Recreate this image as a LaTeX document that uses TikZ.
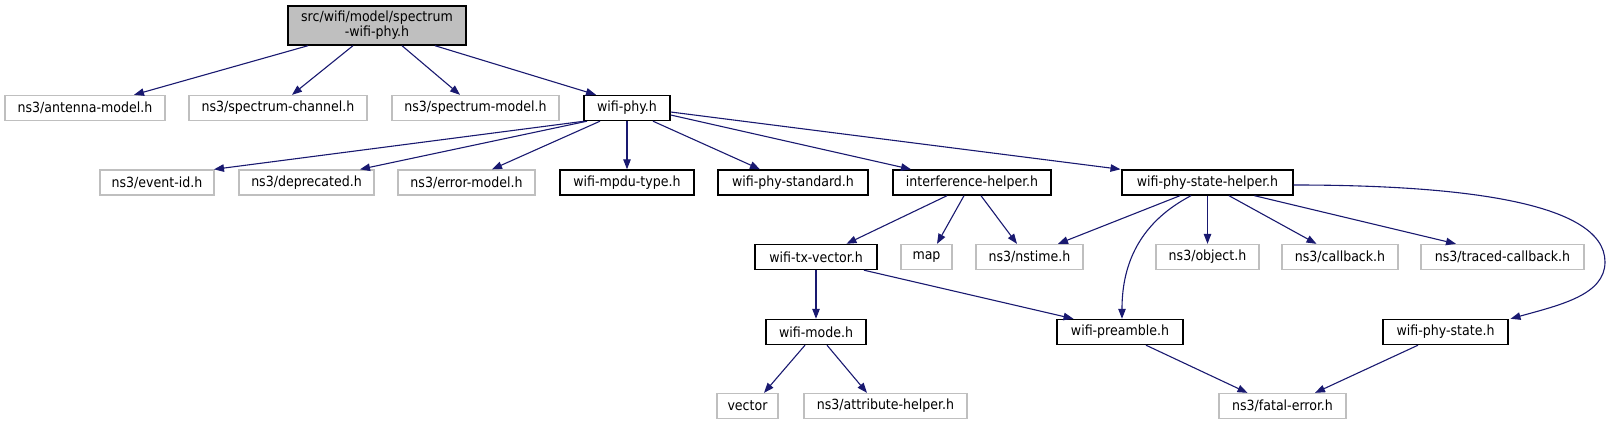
\documentclass[tikz,border=0pt]{standalone}
\usepackage{fontspec}
\setmainfont{DejaVu Sans Condensed}
\usetikzlibrary{arrows.meta}
\definecolor{edgecol}{HTML}{191970}
\definecolor{graybd}{HTML}{BFBFBF}
\begin{document}
\begin{tikzpicture}[x=1pt,y=-1pt,
  font=\fontsize{14}{15}\selectfont,
  box/.style={draw=black, line width=1.4pt, rectangle, minimum height=25pt, inner sep=0pt, fill=white},
  ext/.style={box, draw=graybd, line width=1.3pt},
  edge/.style={draw=edgecol, line width=1.1pt, -{Triangle[length=10pt,width=7.5pt]}}]
\useasboundingbox (0,0) rectangle (1610,425);
% root
\node[box, fill=graybd, minimum width=178pt, minimum height=39pt, align=center] (root) at (377,25.5) {src/wifi/model/spectrum\\-wifi-phy.h};
% row 1
\node[ext, minimum width=160pt] (antenna) at (85,108) {ns3/antenna-model.h};
\node[ext, minimum width=178pt] (spchan) at (278,108) {ns3/spectrum-channel.h};
\node[ext, minimum width=167pt] (spmodel) at (475.5,108) {ns3/spectrum-model.h};
\node[box, minimum width=86pt] (wifiphy) at (627,108) {wifi-phy.h};
% row 2
\node[ext, minimum width=114pt] (eventid) at (157,182.5) {ns3/event-id.h};
\node[ext, minimum width=135pt] (deprecated) at (306.5,182.5) {ns3/deprecated.h};
\node[ext, minimum width=137pt] (errmodel) at (466.5,182.5) {ns3/error-model.h};
\node[box, minimum width=134pt] (mpdu) at (627,182.5) {wifi-mpdu-type.h};
\node[box, minimum width=150pt] (standard) at (793,182.5) {wifi-phy-standard.h};
\node[box, minimum width=158pt] (interf) at (972,182.5) {interference-helper.h};
\node[box, minimum width=171pt] (statehelper) at (1207.5,182.5) {wifi-phy-state-helper.h};
% row 3
\node[box, minimum width=122pt] (txvector) at (816,257) {wifi-tx-vector.h};
\node[ext, minimum width=51pt] (map) at (926.5,257) {map};
\node[ext, minimum width=107pt] (nstime) at (1029.5,257) {ns3/nstime.h};
\node[ext, minimum width=103pt] (object) at (1207.5,257) {ns3/object.h};
\node[ext, minimum width=116pt] (callback) at (1340,257) {ns3/callback.h};
\node[ext, minimum width=163pt] (traced) at (1502.5,257) {ns3/traced-callback.h};
% row 4
\node[box, minimum width=100pt] (mode) at (816,332) {wifi-mode.h};
\node[box, minimum width=126pt] (preamble) at (1120,332) {wifi-preamble.h};
\node[box, minimum width=125pt] (phystate) at (1445.5,332) {wifi-phy-state.h};
% row 5
\node[ext, minimum width=61pt] (vector) at (747.5,406) {vector};
\node[ext, minimum width=163pt] (attr) at (885.5,406) {ns3/attribute-helper.h};
\node[ext, minimum width=127pt] (fatal) at (1282.5,406) {ns3/fatal-error.h};
% edges from root
\draw[edge] ([xshift=-69pt]root.south) -- ([xshift=49pt]antenna.north);
\draw[edge] ([xshift=-24pt]root.south) -- ([xshift=14pt]spchan.north);
\draw[edge] ([xshift=25pt]root.south) -- ([xshift=-15.5pt]spmodel.north);
\draw[edge] ([xshift=58pt]root.south) -- ([xshift=-31pt]wifiphy.north);
% edges from wifi-phy
\draw[edge] ([xshift=1pt]wifiphy.south west) -- ([xshift=57pt]eventid.north);
\draw[edge] ([xshift=-40pt]wifiphy.south) -- ([xshift=53.5pt]deprecated.north);
\draw[edge] ([xshift=-27pt]wifiphy.south) -- ([xshift=25.5pt]errmodel.north);
\draw[edge] (wifiphy.south) -- (mpdu.north);
\draw[edge] ([xshift=26pt]wifiphy.south) -- ([xshift=-33pt]standard.north);
\draw[edge] ([yshift=-7pt]wifiphy.east) -- ([xshift=-61pt]interf.north);
\draw[edge] ([yshift=-4pt]wifiphy.east) -- ([xshift=-87pt]statehelper.north);
% edges from interference-helper
\draw[edge] ([xshift=-25pt]interf.south) -- ([xshift=30.5pt]txvector.north);
\draw[edge] ([xshift=-8pt]interf.south) -- ([xshift=10.5pt]map.north);
\draw[edge] ([xshift=9pt]interf.south) -- ([xshift=-12.5pt]nstime.north);
% edges from wifi-phy-state-helper
\draw[edge] ([xshift=-27.5pt]statehelper.south) -- ([xshift=28.5pt]nstime.north);
\draw[edge] ([xshift=-16.5pt]statehelper.south) .. controls (1135,225) and (1122,270) .. ([xshift=2pt]preamble.north);
\draw[edge] (statehelper.south) -- (object.north);
\draw[edge] ([xshift=21.5pt]statehelper.south) -- ([xshift=-23.5pt]callback.north);
\draw[edge] ([xshift=47pt]statehelper.south) -- ([xshift=-46.5pt]traced.north);
\draw[edge] ([yshift=-2.5pt]statehelper.east) .. controls (1450,185) and (1605,200) .. (1605,262) .. controls (1605,295) and (1560,305) .. ([xshift=65pt]phystate.north);
% edges from wifi-tx-vector
\draw[edge] (txvector.south) -- (mode.north);
\draw[edge] ([xshift=48pt]txvector.south) -- ([xshift=-46.5pt]preamble.north);
% edges from wifi-mode
\draw[edge] ([xshift=-11pt]mode.south) -- ([xshift=16.5pt]vector.north);
\draw[edge] ([xshift=11pt]mode.south) -- ([xshift=-18.5pt]attr.north);
% to fatal-error
\draw[edge] ([xshift=26pt]preamble.south) -- ([xshift=-35pt]fatal.north);
\draw[edge] ([xshift=-27.5pt]phystate.south) -- ([xshift=32.5pt]fatal.north);
\end{tikzpicture}
\end{document}
